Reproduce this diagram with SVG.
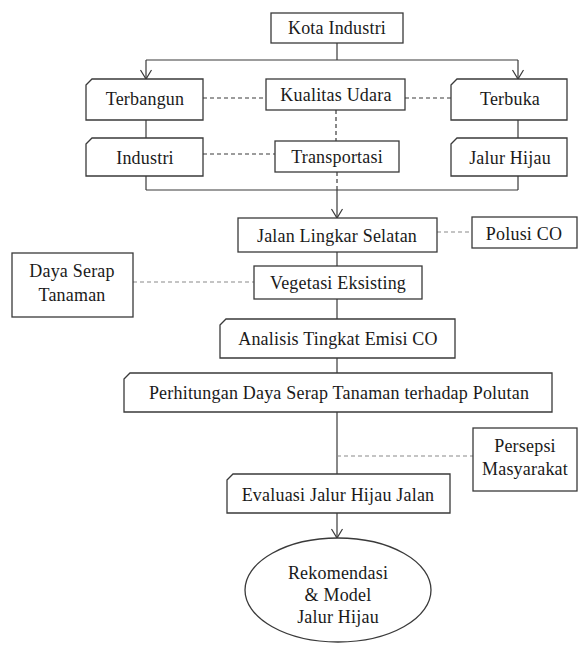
<svg xmlns="http://www.w3.org/2000/svg" width="578" height="648" viewBox="0 0 578 648">
<style>
.box{fill:#fff;stroke:#3a3a3a;stroke-width:1.3}
text{font-family:'Liberation Serif','Times New Roman','DejaVu Serif',serif;font-size:18px;fill:#1a1a1a;text-anchor:middle;letter-spacing:0.2px}
.ln{fill:none;stroke:#3a3a3a;stroke-width:1.2}
.ds{fill:none;stroke:#3a3a3a;stroke-width:1.2;stroke-dasharray:4 3}
.dg{fill:none;stroke:#8a8a8a;stroke-width:1.2;stroke-dasharray:4 3}
</style>
<rect width="578" height="648" fill="#fff"/>
<g id="connectors">
<path class="ln" d="M337,43 V60 M146,60 H518 M146,60 V79 M518,60 V79"/>
<path class="ds" d="M203,98 H266 M405,98 H451 M336,110 V141 M203,154 H275"/>
<path class="ln" d="M146,120 V138 M518,120 V138 M146,176 V190 M518,176 V190 M146,190 H518"/>
<path class="ds" d="M337,172 V190"/>
<path class="ln" d="M337,190 V218"/>
<path class="dg" d="M437,232 H472"/>
<path class="ln" d="M337,252 V266"/>
<path class="dg" d="M133,282 H254"/>
<path class="ln" d="M337,299 V319 M337,358 V373 M337,412 V474"/>
<path class="dg" d="M337,456 H473"/>
<path class="ln" d="M337,513 V538"/>
<path class="ln" d="M140.5,70 L146,79 L151.5,70 M512.5,70 L518,79 L523.5,70 M331.5,209 L337,218 L342.5,209 M331.5,529 L337,538 L342.5,529"/>
</g>
<g font-family="'Liberation Serif', 'Times New Roman', serif">
<g id="kota-industri"><rect class="box" x="271" y="13" width="132" height="30"/><text x="337" y="34">Kota Industri</text></g>
<g id="terbangun"><path class="box" d="M86,85 L92,79 H203 V120 H86 Z"/><text x="145" y="105">Terbangun</text></g>
<g id="kualitas-udara"><rect class="box" x="266" y="79" width="139" height="31"/><text x="336" y="101">Kualitas Udara</text></g>
<g id="terbuka"><path class="box" d="M451,85 L457,79 H567 V120 H451 Z"/><text x="510" y="105">Terbuka</text></g>
<g id="industri"><path class="box" d="M86,144 L92,138 H203 V176 H86 Z"/><text x="145" y="164">Industri</text></g>
<g id="transportasi"><rect class="box" x="275" y="141" width="124" height="31"/><text x="337" y="163">Transportasi</text></g>
<g id="jalur-hijau"><path class="box" d="M451,144 L457,138 H567 V176 H451 Z"/><text x="510" y="164">Jalur Hijau</text></g>
<g id="jalan-lingkar"><rect class="box" x="238" y="218" width="199" height="34"/><text x="337" y="242">Jalan Lingkar Selatan</text></g>
<g id="polusi-co"><rect class="box" x="472" y="217" width="105" height="31"/><text x="524" y="240">Polusi CO</text></g>
<g id="daya-serap"><rect class="box" x="12" y="253" width="121" height="64"/><text x="72" y="277">Daya Serap</text><text x="72" y="301">Tanaman</text></g>
<g id="vegetasi"><rect class="box" x="254" y="266" width="168" height="33"/><text x="338" y="289">Vegetasi Eksisting</text></g>
<g id="analisis"><path class="box" d="M220,325 L226,319 H455 V358 H220 Z"/><text x="338" y="345">Analisis Tingkat Emisi CO</text></g>
<g id="perhitungan"><path class="box" d="M124,379 L130,373 H552 V412 H124 Z"/><text x="339" y="399">Perhitungan Daya Serap Tanaman terhadap Polutan</text></g>
<g id="persepsi"><rect class="box" x="473" y="428" width="104" height="63"/><text x="525" y="452">Persepsi</text><text x="525" y="475">Masyarakat</text></g>
<g id="evaluasi"><path class="box" d="M227,480 L233,474 H450 V513 H227 Z"/><text x="338" y="501">Evaluasi Jalur Hijau Jalan</text></g>
<g id="rekomendasi"><ellipse class="box" cx="338" cy="590" rx="93" ry="52"/><text x="338" y="579">Rekomendasi</text><text x="338" y="601">&amp; Model</text><text x="338" y="623">Jalur Hijau</text></g>
</g>
</svg>
